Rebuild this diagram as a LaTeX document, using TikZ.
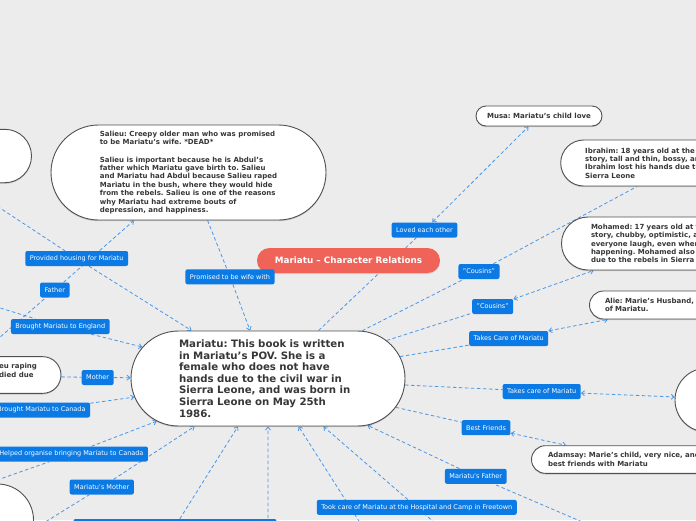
\documentclass[tikz,border=0pt]{standalone}
\usepackage{fontspec}
\setmainfont{DejaVu Sans}
\frenchspacing
\usetikzlibrary{arrows.meta,shapes.misc,shadows}
\definecolor{canvas}{RGB}{236,236,236}
\definecolor{relblue}{RGB}{74,150,232}
\definecolor{tagblue}{RGB}{12,122,228}
\definecolor{titlered}{RGB}{240,99,88}
\definecolor{inkgray}{RGB}{55,55,55}
\definecolor{rimgray}{RGB}{80,80,80}
\pgfdeclarelayer{bg}
\pgfdeclarelayer{links}
\pgfsetlayers{bg,links,main}

\begin{document}
\begin{tikzpicture}[x=1pt, y=-1pt,
  >={Straight Barb[length=3pt,width=5pt]},
  person/.style={rounded rectangle, draw=rimgray, line width=0.9pt, fill=white, text=inkgray, font=\bfseries\fontsize{7}{8.4}\selectfont, align=left, inner sep=0pt, drop shadow={shadow xshift=0pt, shadow yshift=-1.2pt, fill=black!50, opacity=0.35}},
  tag/.style={fill=tagblue, text=white, rounded corners=2pt, font=\fontsize{6.5}{7.5}\selectfont, minimum height=15pt, inner xsep=4.5pt, inner ysep=0pt},
  titlebox/.style={rounded rectangle, fill=titlered, text=white, font=\bfseries\fontsize{8.8}{10}\selectfont, inner sep=0pt, drop shadow={shadow xshift=0pt, shadow yshift=-1pt, fill=black!40, opacity=0.3}},
  rel/.style={draw=relblue, line width=0.8pt, dash pattern=on 3.5pt off 2.5pt}
]
\useasboundingbox (0,0) rectangle (696,520);
\begin{pgfonlayer}{bg}
  \fill[canvas] (0,0) rectangle (696,520);
\end{pgfonlayer}

% people
\node[person, minimum width=274pt, minimum height=95pt, text width=178pt, font=\bfseries\fontsize{10.2}{11.6}\selectfont] (mariatu) at (268,378.5) {Mariatu: This book is written\\ in Mariatu's POV. She is a\\ female who does not have\\ hands due to the civil war in\\ Sierra Leone, and was born in\\ Sierra Leone on May 25th\\ 1986.};
\node[person, minimum width=275pt, minimum height=95pt] (salieu) at (188.5,172.5) {Salieu: Creepy older man who was promised\\ to be Mariatu's wife. *DEAD*\\[9pt] Salieu is important because he is Abdul's\\ father which Mariatu gave birth to. Salieu\\ and Mariatu had Abdul because Salieu raped\\ Mariatu in the bush, where they would hide\\ from the rebels. Salieu is one of the reasons\\ why Mariatu had extreme bouts of\\ depression, and happiness.};
\node[person, minimum width=126pt, minimum height=20pt] (musa) at (539,116) {Musa: Mariatu's child love};
\node[person, minimum width=240pt, minimum height=46pt, text width=191pt] (ibrahim) at (680.7,163) {Ibrahim: 18 years old at the\\ story, tall and thin, bossy, and\\ Ibrahim lost his hands due to\\ Sierra Leone};
\node[person, minimum width=215pt, minimum height=53pt, text width=156pt] (mohamed) at (669,243.5) {Mohamed: 17 years old at the\\ story, chubby, optimistic, and\\ everyone laugh, even when\\ happening. Mohamed also\\ due to the rebels in Sierra};
\node[person, minimum width=187pt, minimum height=28pt, text width=156pt] (alie) at (683,305) {Alie: Marie's Husband,\\ of Mariatu.};
\node[person, minimum width=150pt, minimum height=64pt] (marie) at (750,400) {};
\node[person, minimum width=199pt, minimum height=27.6pt, text width=166pt] (adamsay) at (631,459.5) {Adamsay: Marie's child, very nice, and\\ best friends with Mariatu};
\node[person, minimum width=221pt, minimum height=53.4pt] (hostnode) at (-79,156) {};
\node[person, minimum width=210pt, minimum height=36.7pt] (abdul) at (-44,375) {};
\node[anchor=west, align=left, inner sep=0pt, text=inkgray, font=\bfseries\fontsize{7}{8.4}\selectfont] (abdultext) at (-1,370.3) {eu raping\\ died due};
\node[person, minimum width=147pt, minimum height=72pt] (leftlow) at (-40,520) {};

\node[titlebox, minimum width=183pt, minimum height=25pt] (title) at (348.5,260.5) {Mariatu – Character Relations};

% relation labels
\node[tag] (loved) at (424.5,230) {Loved each other};
\node[tag] (housing) at (76.7,258.5) {Provided housing for Mariatu};
\node[tag] (promised) at (230,276.8) {Promised to be wife with};
\node[tag] (father) at (54.8,290) {Father};
\node[tag] (england) at (60.3,326.5) {Brought Mariatu to England};
\node[tag] (cousinsA) at (479,271.5) {"Cousins"};
\node[tag] (cousinsB) at (492.7,306.5) {"Cousins"};
\node[tag] (caresA) at (508.7,338.5) {Takes Care of Mariatu};
\node[tag] (mother) at (97.7,377.5) {Mother};
\node[tag] (canada) at (41.5,410) {Brought Mariatu to Canada};
\node[tag] (caresB) at (541.7,391.5) {Takes care of Mariatu};
\node[tag] (friends) at (486,427.7) {Best Friends};
\node[tag] (helped) at (71.4,454) {Helped organise bringing Mariatu to Canada};
\node[tag] (dadtag) at (475.8,476.3) {Mariatu's Father};
\node[tag] (mumtag) at (101.8,487) {Mariatu's Mother};
\node[tag] (hospital) at (416.8,507.3) {Took care of Mariatu at the Hospital and Camp in Freetown};
\node[tag, minimum width=203pt] (lowtag) at (175,526.5) {};

% off-page ends
\coordinate (englandsrc) at (-120,271);
\coordinate (canadasrc) at (-100,430);
\coordinate (helpedsrc) at (-60,500);
\coordinate (mumsrc) at (0,550);
\coordinate (lowsrc) at (137,586);
\coordinate (vertsrc) at (268,620);
\coordinate (slantsrc) at (408,598);
\coordinate (hospsrc) at (499,578);
\coordinate (dadsrc) at (615,536);

\begin{pgfonlayer}{links}
\draw[rel,<->] (mariatu) -- (loved) -- (musa);
\draw[rel,->] (hostnode) -- (housing) -- (mariatu);
\draw[rel,->] (salieu) -- (promised) -- (mariatu);
\draw[rel,->] (abdul) -- (father) -- (salieu);
\draw[rel,->] (englandsrc) -- (england) -- (mariatu);
\draw[rel] (mariatu) -- (cousinsA) -- (ibrahim);
\draw[rel,<->] (mariatu) -- (cousinsB) -- (mohamed);
\draw[rel,<->] (mariatu) -- (caresA) -- (alie);
\draw[rel,->] (abdul) -- (mother) -- (mariatu);
\draw[rel,->] (canadasrc) -- (canada) -- (mariatu);
\draw[rel,<->] (mariatu) -- (caresB) -- (marie);
\draw[rel,<->] (mariatu) -- (friends) -- (adamsay);
\draw[rel,->] (helpedsrc) -- (helped) -- (mariatu);
\draw[rel,->] (dadsrc) -- (dadtag) -- (mariatu);
\draw[rel,->] (mumsrc) -- (mumtag) -- (mariatu);
\draw[rel,->] (hospsrc) -- (hospital) -- (mariatu);
\draw[rel,->] (lowsrc) -- (lowtag) -- (mariatu);
\draw[rel,->] (vertsrc) -- (mariatu);
\draw[rel,->] (slantsrc) -- (mariatu);
\end{pgfonlayer}
\end{tikzpicture}
\end{document}
